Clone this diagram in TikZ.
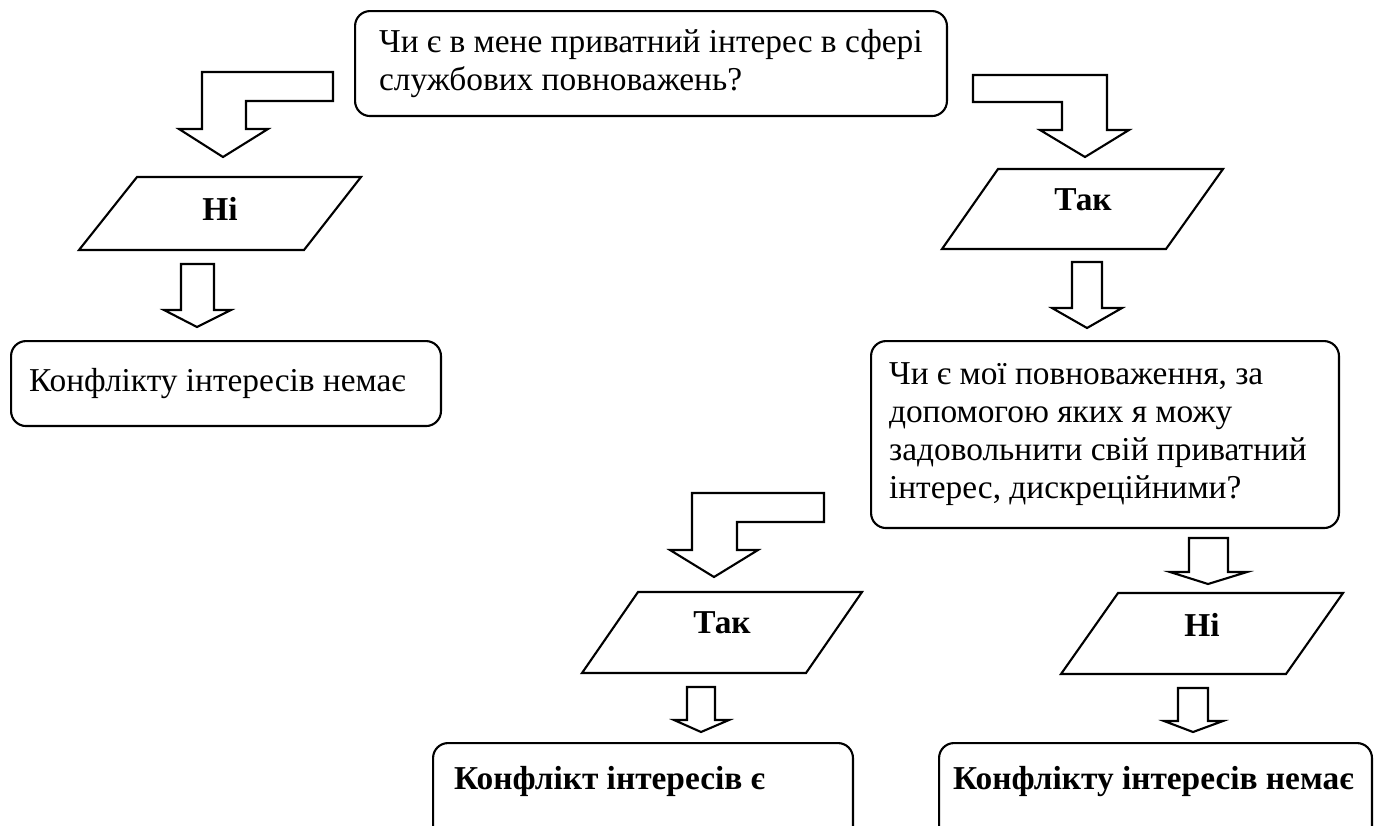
\documentclass[tikz,border=0pt]{standalone}
\usepackage{fontspec}
\setmainfont{Liberation Serif}
\usetikzlibrary{positioning}
\tikzset{
  frame/.style      = { draw=black, line width=1.2pt },
  box/.style        = { frame, rectangle, rounded corners=3mm, anchor=north west, align=flush left },
  question/.style   = { box, inner ysep=0pt },
  result/.style     = { box, inner ysep=0pt },
  answer/.style     = { font=\fontsize{19pt}{21.6pt}\selectfont\bfseries },
  slanted/.style    = { frame, line join=miter },
  blockarrow/.style = { frame, line join=miter, fill=white }
}

\begin{document}
\begin{tikzpicture}[x=0.02cm,y=-0.02cm,font=\fontsize{19pt}{21.6pt}\selectfont]
  \clip (0,0) rectangle (1378,825);

  \node (q1) [question,minimum width=11.84cm,minimum height=2.1cm,inner xsep=0.48cm,text width=10.88cm]
        at (354,10) {Чи є в мене приватний інтерес в сфері\\службових повноважень?};

  \draw [blockarrow] (333,72) -- (202,72) -- (202,129) -- (179,129) -- (223,157)
        -- (268,129) -- (246,129) -- (246,101) -- (333,101) -- cycle;
  \draw [blockarrow] (973,75) -- (1107,75) -- (1107,130) -- (1129,130) -- (1085,157)
        -- (1040,130) -- (1062,130) -- (1062,102) -- (973,102) -- cycle;

  \draw [slanted] (79,250) -- (137,177) -- (361,177) -- (304,250) -- cycle;
  \node (no1)  [answer] at (220,209) {Ні};
  \draw [slanted] (942,249) -- (998,169) -- (1223,169) -- (1166,249) -- cycle;
  \node (yes1) [answer] at (1083,200) {Так};

  \draw [blockarrow] (181,264) -- (181,310) -- (164,310) -- (197,327)
        -- (231,310) -- (214,310) -- (214,264) -- cycle;
  \draw [blockarrow] (1072,262) -- (1072,308) -- (1052,308) -- (1087,328)
        -- (1122,308) -- (1102,308) -- (1102,262) -- cycle;

  \node (r1) [result,minimum width=8.6cm,minimum height=1.7cm,inner xsep=0.36cm,text width=7.88cm]
        at (10,340) {Конфлікту інтересів немає};

  \node (q2) [question,minimum width=9.36cm,minimum height=3.74cm,inner xsep=0.36cm,text width=8.64cm]
        at (870,340) {Чи є мої повноваження, за\\допомогою яких я можу\\задовольнити свій приватний\\інтерес, дискреційними?};

  \draw [blockarrow] (824,493) -- (692,493) -- (692,550) -- (670,550) -- (714,577)
        -- (758,550) -- (737,550) -- (737,522) -- (824,522) -- cycle;
  \draw [blockarrow] (1189,538) -- (1189,572) -- (1170,572) -- (1208,584)
        -- (1247,572) -- (1228,572) -- (1228,538) -- cycle;

  \draw [slanted] (582,673) -- (638,592) -- (862,592) -- (806,673) -- cycle;
  \node (yes2) [answer] at (722,623) {Так};
  \draw [slanted] (1061,674) -- (1118,593) -- (1343,593) -- (1286,674) -- cycle;
  \node (no2)  [answer] at (1202,625) {Ні};

  \draw [blockarrow] (687,687) -- (687,720) -- (674,720) -- (701,732)
        -- (729,720) -- (715,720) -- (715,687) -- cycle;
  \draw [blockarrow] (1178,688) -- (1178,721) -- (1164,721) -- (1193,732)
        -- (1223,721) -- (1208,721) -- (1208,688) -- cycle;

  \node (r2) [result,minimum width=8.4cm,inner xsep=0.42cm,text width=7.56cm,
              text height=0.92cm,text depth=1.2cm,font=\fontsize{19pt}{21.6pt}\selectfont\bfseries]
        at (432,742) {Конфлікт інтересів є};
  \node (r3) [result,minimum width=8.66cm,inner xsep=0.28cm,text width=8.1cm,
              text height=0.92cm,text depth=1.2cm,font=\fontsize{19pt}{21.6pt}\selectfont\bfseries]
        at (938,742) {Конфлікту інтересів немає};
\end{tikzpicture}
\end{document}
